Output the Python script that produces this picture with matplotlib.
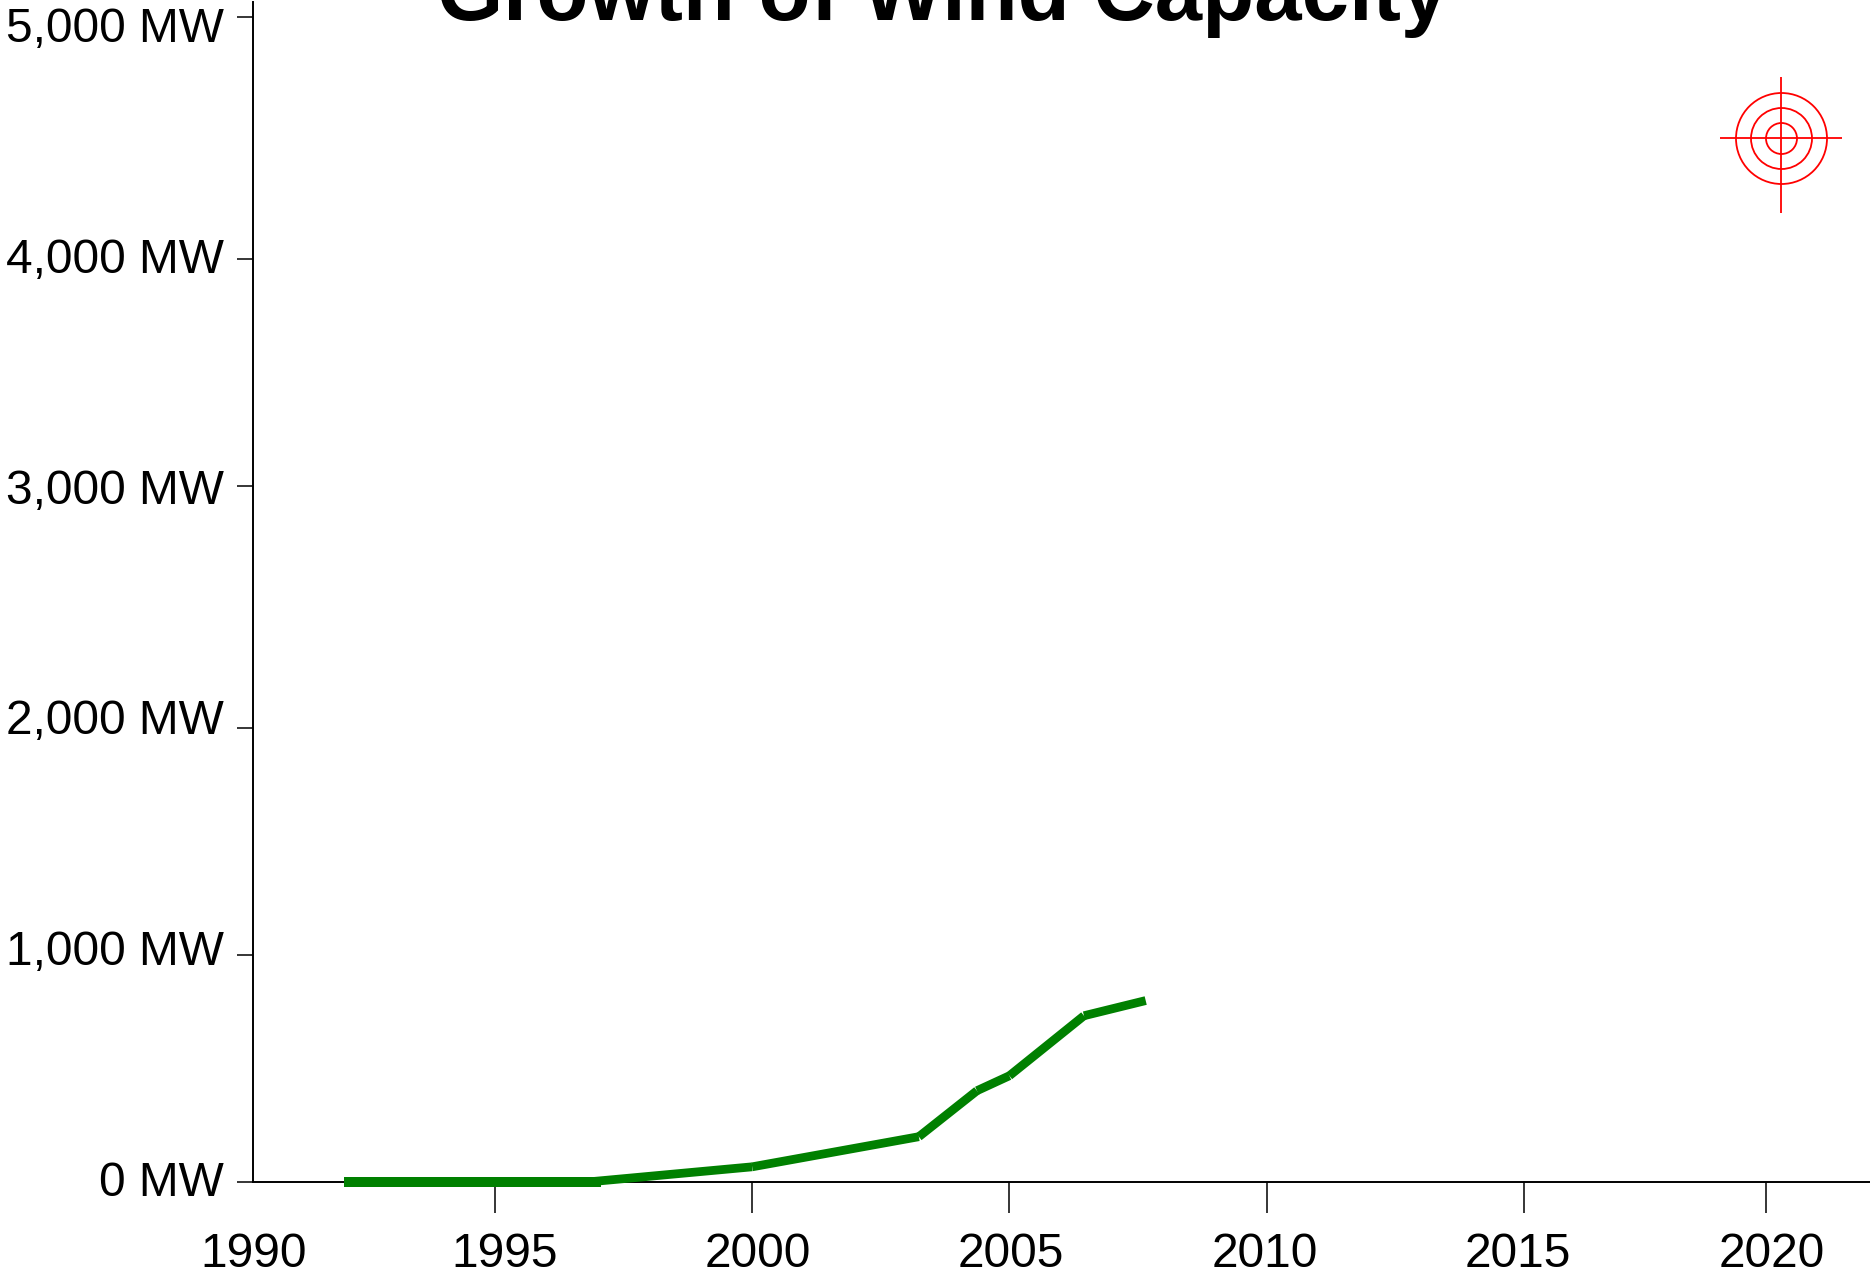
import matplotlib
matplotlib.use('Agg')
import matplotlib.pyplot as plt

# values
years = [1992.06, 1997.06, 1996.8, 2000.0, 2003.24, 2004.37, 2005.0, 2006.45, 2007.65]
capacity = [0, 0, 0, 65, 194, 391, 455, 712, 777]

# tick marks and their labels are not lined up in the original, so each has its own positions
y_ticks = [0, 973, 1944, 2981, 3952, 4988]
y_labels = ['0 MW', '1,000 MW', '2,000 MW', '3,000 MW', '4,000 MW', '5,000 MW']
y_label_pos = [15, 1003, 1992, 2980, 3969, 4957]

x_ticks = [1995, 2000, 2005, 2010, 2015, 2019.7]
x_labels = ['1990', '1995', '2000', '2005', '2010', '2015', '2020']
x_label_pos = [1990.3, 1995.19, 2000.11, 2005.03, 2009.96, 2014.88, 2019.82]

target_year = 2020.0
target_mw = 4471
cross_top = 4732
cross_bottom = 4150

W, H = 1870, 1274
px = 0.72  # points per pixel at dpi 100
plt.rcParams['font.family'] = ['Liberation Sans', 'DejaVu Sans']

fig = plt.figure(figsize=(W / 100, H / 100), dpi=100)
ax = fig.add_axes([253 / W, (H - 1182) / H, (W - 253) / W, (1182 - 2) / H])
ax.set_xlim(1990.296, 1990.296 + (W - 253) / 51.44)
ax.set_ylim(0, 1180 / 0.2335)

ax.spines['top'].set_visible(False)
ax.spines['right'].set_visible(False)
ax.spines['left'].set_linewidth(1.4)
ax.spines['bottom'].set_linewidth(1.4)

ax.set_yticks(y_ticks)
ax.set_yticklabels([])
ax.set_yticks(y_label_pos, minor=True)
ax.set_yticklabels(y_labels, minor=True, fontsize=34.5)
ax.tick_params(axis='y', which='major', length=11.5, width=1.1)
ax.tick_params(axis='y', which='minor', length=0, pad=29 * px)

ax.set_xticks(x_ticks)
ax.set_xticklabels([])
ax.set_xticks(x_label_pos, minor=True)
ax.set_xticklabels(x_labels, minor=True, fontsize=34.5)
ax.tick_params(axis='x', which='major', length=22, width=1.1)
ax.tick_params(axis='x', which='minor', length=0, pad=50 * px)

# line is separate segments with butt ends, the small gaps show at the joins
for i in range(len(years) - 1):
    lw = 7.2 if capacity[i] == capacity[i + 1] else 6.3
    ax.plot(years[i:i + 2], capacity[i:i + 2], color='#008000', lw=lw,
            solid_capstyle='butt', clip_on=False, zorder=3)

# red target
for size in [91, 61, 31]:
    ax.plot(target_year, target_mw, 'o', ms=size * px, mfc='none', mec='#ff0000', mew=1.3)
ax.plot(target_year, target_mw, '_', ms=122 * px, mec='#ff0000', mew=1.3)
ax.plot([target_year, target_year], [cross_bottom, cross_top], color='#ff0000', lw=1.3,
        solid_capstyle='butt')

fig.text(943 / W, (H - 20) / H, 'Growth of Wind Capacity', fontsize=61.3, fontweight='bold',
         ha='center', va='baseline')

fig.savefig('out.png', dpi=100)
